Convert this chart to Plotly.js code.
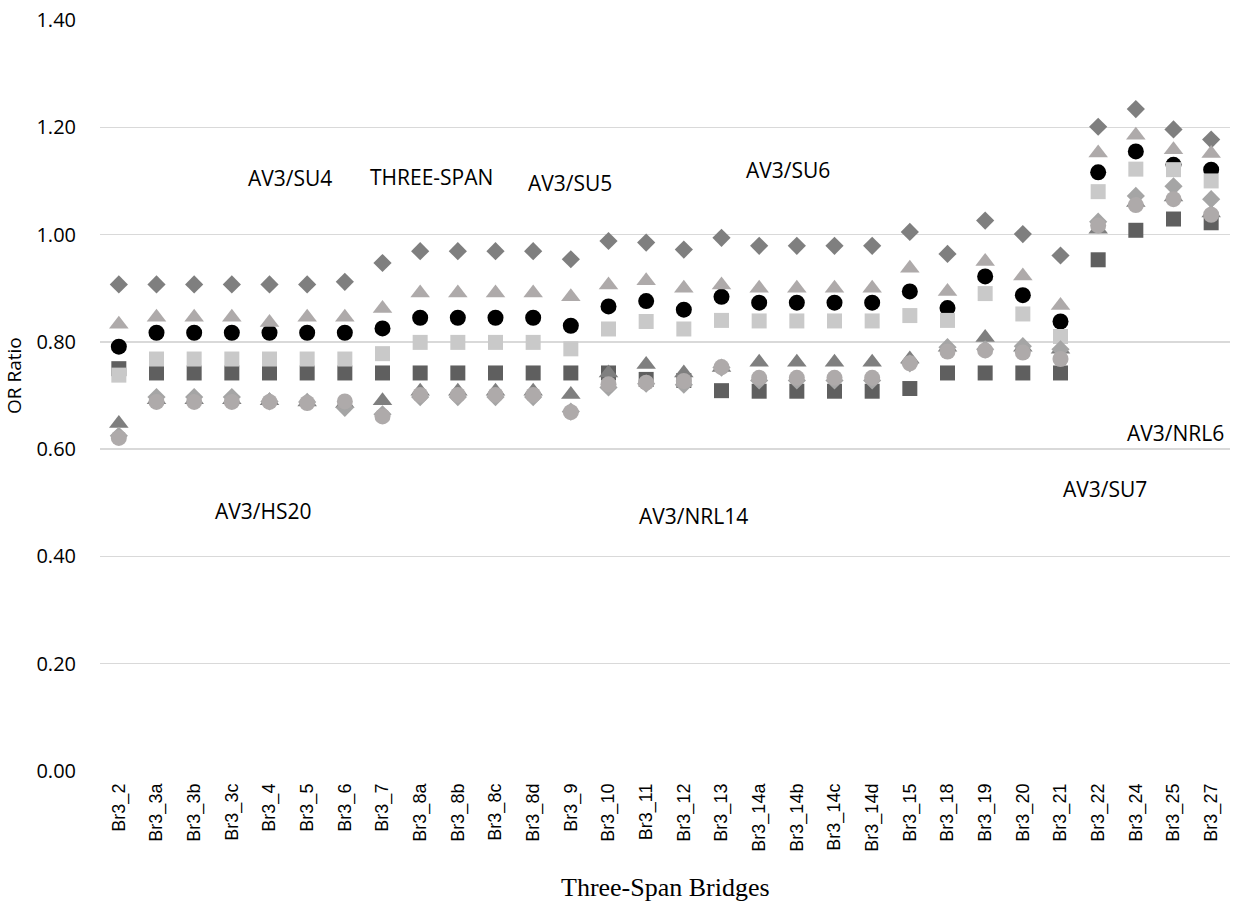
<!DOCTYPE html>
<html>
<head>
<meta charset="utf-8">
<script src="https://cdn.plot.ly/plotly-3.0.1.min.js"></script>
<style>html,body{margin:0;padding:0;background:#fff;}#chart{width:1238px;height:907px;}</style>
</head>
<body>
<div id="chart"></div>
<script>
const categories = ["Br3_2","Br3_3a","Br3_3b","Br3_3c","Br3_4","Br3_5","Br3_6","Br3_7","Br3_8a","Br3_8b","Br3_8c","Br3_8d","Br3_9","Br3_10","Br3_11","Br3_12","Br3_13","Br3_14a","Br3_14b","Br3_14c","Br3_14d","Br3_15","Br3_18","Br3_19","Br3_20","Br3_21","Br3_22","Br3_24","Br3_25","Br3_27"];

const blackCircle   = [0.791,0.817,0.817,0.817,0.817,0.817,0.817,0.825,0.845,0.845,0.845,0.845,0.830,0.866,0.876,0.860,0.884,0.873,0.873,0.873,0.873,0.894,0.863,0.922,0.887,0.838,1.116,1.155,1.130,1.121];
const darkDiamond   = [0.907,0.907,0.907,0.907,0.907,0.907,0.912,0.947,0.969,0.969,0.969,0.969,0.954,0.988,0.985,0.972,0.994,0.979,0.979,0.979,0.979,1.005,0.964,1.026,1.001,0.961,1.201,1.234,1.196,1.177];
const darkSquare    = [0.750,0.742,0.742,0.742,0.742,0.742,0.742,0.742,0.742,0.742,0.742,0.742,0.742,0.742,0.730,0.728,0.709,0.708,0.708,0.708,0.708,0.713,0.742,0.742,0.742,0.742,0.953,1.008,1.029,1.022];
const lightTriangle = [0.833,0.846,0.846,0.846,0.836,0.846,0.846,0.862,0.891,0.891,0.891,0.891,0.884,0.906,0.914,0.900,0.906,0.900,0.900,0.900,0.900,0.937,0.894,0.950,0.923,0.868,1.152,1.185,1.158,1.151];
const lightSquare   = [0.738,0.768,0.768,0.768,0.768,0.768,0.768,0.778,0.799,0.799,0.799,0.799,0.787,0.824,0.838,0.824,0.840,0.839,0.839,0.839,0.839,0.849,0.840,0.890,0.852,0.810,1.080,1.122,1.121,1.100];
const darkTriangle  = [0.648,0.692,0.692,0.692,0.690,0.688,0.685,0.690,0.708,0.708,0.708,0.708,0.702,0.742,0.758,0.742,0.752,0.762,0.762,0.762,0.762,0.768,0.790,0.808,0.790,0.786,1.010,1.060,1.070,1.040];
const lightDiamond  = [0.625,0.697,0.697,0.697,0.689,0.688,0.677,0.665,0.697,0.697,0.697,0.697,0.670,0.715,0.722,0.720,0.752,0.728,0.728,0.728,0.728,0.760,0.790,0.786,0.792,0.786,1.024,1.072,1.090,1.066];
const lightCircle   = [0.621,0.688,0.688,0.688,0.688,0.686,0.689,0.661,0.701,0.701,0.701,0.701,0.669,0.721,0.724,0.727,0.753,0.733,0.733,0.733,0.733,0.760,0.782,0.784,0.780,0.768,1.017,1.055,1.066,1.037];

const seriesLabels = ["AV3/SU4","THREE-SPAN","AV3/SU5","AV3/SU6","AV3/HS20","AV3/NRL14","AV3/NRL6","AV3/SU7"];
const yTicks = [0,0.2,0.4,0.6,0.8,1.0,1.2,1.4];
const yTitle = "OR Ratio";
const xTitle = "Three-Span Bridges";

function tr(name, y, symbol, color, size){
  return {x: categories, y: y, type: 'scatter', mode: 'markers', name: name,
    marker: {symbol: symbol, color: color, size: size, line: {width: 0}}, hoverinfo: 'x+y'};
}

const data = [
  tr('Black circle', blackCircle, 'circle', '#000000', 16),
  tr('Dark diamond', darkDiamond, 'diamond', '#7f7f7f', 14),
  tr('Dark square', darkSquare, 'square', '#5f5f5f', 15),
  tr('Light triangle', lightTriangle, 'triangle-up', '#aeaaaa', 17),
  tr('Light square', lightSquare, 'square', '#c9c9c9', 15),
  tr('Dark triangle', darkTriangle, 'triangle-up', '#7f7f7f', 17),
  tr('Light diamond', lightDiamond, 'diamond', '#a5a5a5', 14),
  tr('Light circle', lightCircle, 'circle', '#aeaaaa', 16)
];

const labelPos = [
  [290,178],[431,177],[570,183],[788,170],[263,511],[693,516],[1175,433],[1105,489]
];
const W = 1238, H = 907, L = 100, R = 8, T = 20, B = 136;
const px = v => (v-L)/(W-L-R);
const py = v => 1-(v-T)/(H-T-B);
const annotations = seriesLabels.map((t,i)=>({
  text: t, showarrow: false, xref: 'paper', yref: 'paper',
  x: px(labelPos[i][0]), y: py(labelPos[i][1]),
  xanchor: 'center', yanchor: 'middle',
  font: {family: 'Open Sans, sans-serif', size: 21, color: '#000'}
}));
annotations.push({
  text: yTitle, showarrow: false, xref: 'paper', yref: 'paper',
  x: px(14), y: py(376), xanchor: 'center', yanchor: 'middle', textangle: -90,
  font: {family: 'Open Sans, sans-serif', size: 19, color: '#000'}
});
annotations.push({
  text: xTitle, showarrow: false, xref: 'paper', yref: 'paper',
  x: px(665), y: py(888), xanchor: 'center', yanchor: 'middle',
  font: {family: 'Liberation Serif, Times New Roman, serif', size: 26, color: '#000'}
});

const layout = {
  width: W, height: H,
  margin: {l: L, r: R, t: T, b: B},
  paper_bgcolor: '#fff', plot_bgcolor: '#fff',
  showlegend: false,
  xaxis: {
    type: 'category', range: [-0.5, 29.5], tickangle: -90,
    showgrid: false, showline: false, zeroline: false, ticks: '',
    tickfont: {family: 'Liberation Sans, Arial, sans-serif', size: 18, color: '#000'},
    ticklabelstandoff: 8
  },
  yaxis: {
    range: [0, 1.4], tickvals: yTicks, ticktext: yTicks.map(v=>v.toFixed(2)),
    showgrid: true, gridcolor: '#d9d9d9', gridwidth: 1.3,
    zeroline: false, showline: false, ticks: '',
    tickfont: {family: 'Open Sans, sans-serif', size: 20, color: '#000'},
    ticklabelstandoff: 23
  },
  annotations: annotations
};

Plotly.newPlot('chart', data, layout, {displayModeBar: false, staticPlot: true});
</script>
</body>
</html>
